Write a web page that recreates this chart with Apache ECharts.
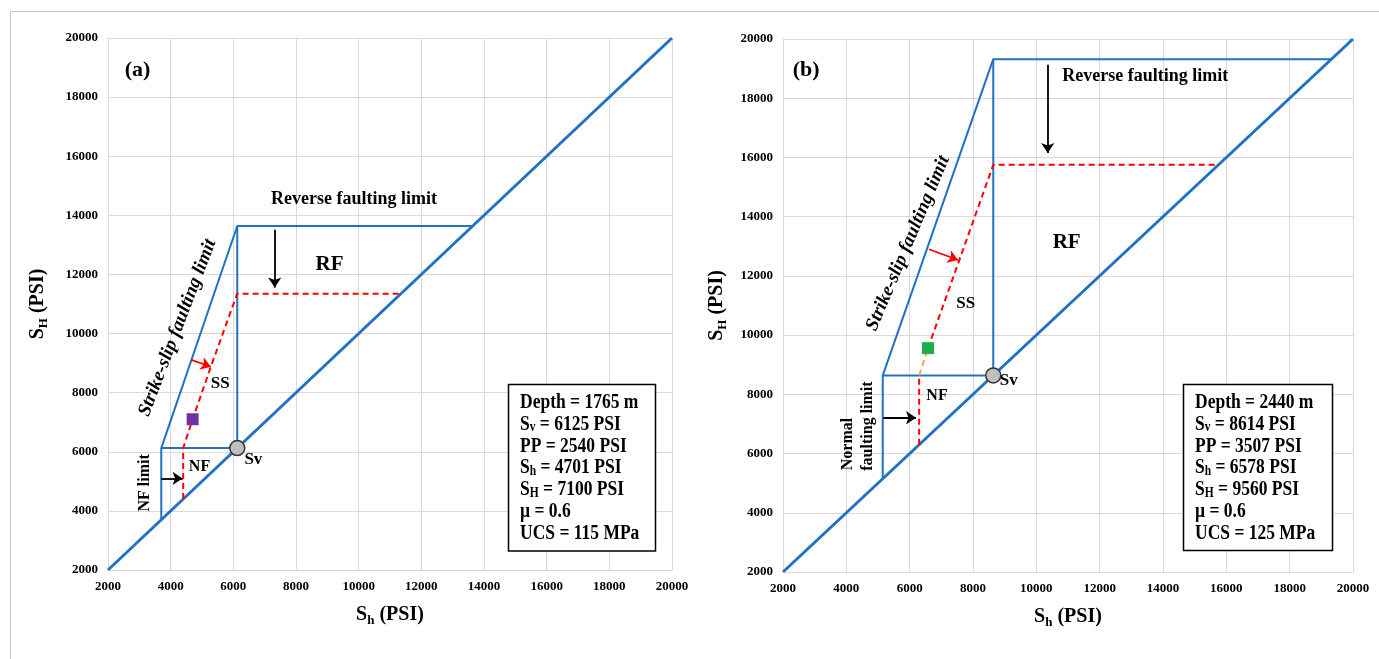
<!DOCTYPE html>
<html><head><meta charset="utf-8">
<script src="https://cdn.jsdelivr.net/npm/echarts@6/dist/echarts.min.js"></script>
<style>html,body{margin:0;padding:0;background:#fff}#c{width:1379px;height:659px}</style>
</head><body><div id="c"></div>
<script>
// ---------- axis ----------
const axisMin = 2000, axisMax = 20000, axisStep = 2000;

// ---------- panel (a) ----------
const aDiagonal = [[2000, 2000], [20000, 20000]];
const aLimitOuter = [[3700, 3700], [3700, 6125], [6125, 13640], [13640, 13640]];
const aLimitInner = [[3700, 6125], [6125, 6125], [6125, 13640]];
const aPathRed = [[4400, 4400], [4400, 6125], [4701, 7100], [5290, 8900], [6125, 11350], [11350, 11350]];
const aPathOrange = [];
const aPathRed2 = [];
const aWell = [[4701, 7100]];
const aSv = [[6125, 6125]];
const aArrowsBlack = [[[3700, 5100], [4380, 5100]], [[7320, 13510], [7320, 11560]]];
const aArrowsRed = [[[4660, 9110], [5284, 8876]]];
const aLabelText = ['(a)', 'Reverse faulting limit', 'RF', 'SS', 'NF', 'Sv', 'NF limit', 'Strike-slip faulting limit'];
const aLabelAt = [[2940, 18900], [9850, 14530], [9070, 12330], [5580, 8300], [4920, 5500], [6640, 5725], [3165, 4946], [4218, 10195]];
const aInfo = [['Depth = 1765 m'], ['S', 'v', ' = 6125 PSI'], ['PP = 2540 PSI'], ['S', 'h', ' = 4701 PSI'], ['S', 'H', ' = 7100 PSI'], ['\u00b5 = 0.6'], ['UCS = 115 MPa']];

// ---------- panel (b) ----------
const bDiagonal = [[2000, 2000], [20000, 20000]];
const bLimitOuter = [[5150, 5150], [5150, 8640], [8640, 19320], [19320, 19320]];
const bLimitInner = [[5150, 8640], [8640, 8640], [8640, 19320]];
const bPathRed = [[6300, 6300], [6300, 8640]];
const bPathOrange = [[6300, 8640], [6578, 9560]];
const bPathRed2 = [[6578, 9560], [8640, 15750], [15750, 15750]];
const bWell = [[6578, 9560]];
const bSv = [[8640, 8640]];
const bArrowsBlack = [[[5170, 7210], [6200, 7210]], [[10360, 19130], [10360, 16150]]];
const bArrowsRed = [[[6610, 12900], [7526, 12537]]];
const bLabelText = ['(b)', 'Reverse faulting limit', 'RF', 'SS', 'NF', 'Sv', 'Normal', 'faulting limit', 'Strike-slip faulting limit'];
const bLabelAt = [[2729, 18930], [13440, 18753], [10958, 13122], [7769, 11074], [6863, 7953], [9130, 8470], [4043, 6321], [4674, 6929], [5947, 13101]];
const bInfo = [['Depth = 2440 m'], ['S', 'v', ' = 8614 PSI'], ['PP = 3507 PSI'], ['S', 'h', ' = 6578 PSI'], ['S', 'H', ' = 9560 PSI'], ['\u00b5 = 0.6'], ['UCS = 125 MPa']];

// ---------- styling ----------
const FONT = "'Liberation Serif','Times New Roman',serif";
const BLUE = '#2272c3';
const RED = '#ff0000';
const ORANGE = '#f2a463';
const GRID = '#d9d9d9';

const labelStyleA = [
  {size: 22}, {size: 18}, {size: 21}, {size: 17}, {size: 16}, {size: 17},
  {size: 16, rotate: 90}, {size: 19, rotate: 69, italic: true}
];
const labelStyleB = [
  {size: 22}, {size: 18}, {size: 21}, {size: 17}, {size: 16}, {size: 17},
  {size: 16, rotate: 90}, {size: 16, rotate: 90}, {size: 19, rotate: 67, italic: true}
];

const grids = [
  {left: 108, top: 38, width: 564, height: 532},
  {left: 783, top: 39, width: 570, height: 533}
];

const nameRich = {
  m: {fontSize: 20, fontWeight: 'bold', fontFamily: FONT, color: '#000', lineHeight: 24},
  s: {fontSize: 13, fontWeight: 'bold', fontFamily: FONT, color: '#000', lineHeight: 6, verticalAlign: 'bottom'}
};

function axis(i, name, gap) {
  return {
    type: 'value', gridIndex: i, min: axisMin, max: axisMax, interval: axisStep,
    axisLine: {show: true, lineStyle: {color: GRID, width: 1}},
    axisTick: {show: false},
    splitLine: {show: true, lineStyle: {color: GRID, width: 1}},
    axisLabel: {color: '#000', fontFamily: FONT, fontWeight: 'bold', fontSize: 13, margin: 10,
      showMinLabel: true, showMaxLabel: true, formatter: v => String(v)},
    name: name, nameLocation: 'middle', nameGap: gap,
    nameTextStyle: {rich: nameRich}
  };
}

function panelSeries(i, d, styles) {
  const ax = {xAxisIndex: i, yAxisIndex: i};
  const line = (data, color, width, type, z) => ({
    type: 'line', ...ax, data: data, showSymbol: false, symbol: 'none', silent: true, z: z,
    lineStyle: {color: color, width: width, type: type}, animation: false
  });
  const arrows = (list, color) => ({
    type: 'lines', coordinateSystem: 'cartesian2d', ...ax, silent: true, z: 12,
    symbol: ['none', 'arrow'], symbolSize: 10,
    lineStyle: {color: color, width: 1.8, opacity: 1, curveness: 0},
    data: list.map(c => ({coords: c})), animation: false
  });
  const s = [
    line(d.diag, BLUE, 3, 'solid', 5),
    line(d.outer, BLUE, 2, 'solid', 5),
    line(d.inner, BLUE, 2, 'solid', 5),
    line(d.red, RED, 2, [6, 4], 6),
    arrows(d.black, '#000'),
    arrows(d.redArrows, RED),
    {type: 'scatter', ...ax, data: d.well, symbol: 'rect', symbolSize: 12, silent: true, z: 14,
      itemStyle: {color: d.wellColor, opacity: 1}, animation: false},
    {type: 'scatter', ...ax, data: d.sv, symbol: 'circle', symbolSize: 15, silent: true, z: 15,
      itemStyle: {color: '#bfbfbf', borderColor: '#333', borderWidth: 1.5, opacity: 1}, animation: false},
    {type: 'scatter', ...ax, symbolSize: 0, silent: true, z: 20, animation: false,
      itemStyle: {opacity: 1, color: 'transparent'},
      data: d.labels.map((t, k) => ({
        value: d.at[k],
        label: {show: true, position: 'inside', formatter: t, rotate: styles[k].rotate || 0,
          fontSize: styles[k].size, fontWeight: 'bold', fontStyle: styles[k].italic ? 'italic' : 'normal',
          fontFamily: FONT, color: '#000', opacity: 1, textBorderWidth: 0, textBorderColor: 'transparent',
          textShadowBlur: 0}
      }))}
  ];
  if (d.orange.length) s.push(line(d.orange, ORANGE, 2, [6, 4], 6));
  if (d.red2.length) s.push(line(d.red2, RED, 2, [6, 4], 6));
  return s;
}

function infoText(lines) {
  return lines.map(l => l.length === 1 ? '{t|' + l[0] + '}' : '{t|' + l[0] + '}{u|' + l[1] + '}{t|' + l[2] + '}').join('\n');
}
const infoRich = {
  t: {fontSize: 17.5, fontWeight: 'bold', fontFamily: FONT, fill: '#000', lineHeight: 17.45},
  u: {fontSize: 11.5, fontWeight: 'bold', fontFamily: FONT, fill: '#000', lineHeight: 4, verticalAlign: 'bottom'}
};
function infoBox(x, y, w, h, lines) {
  return {
    type: 'group', z: 100, children: [
      {type: 'rect', shape: {x: x, y: y, width: w, height: h}, style: {fill: '#fff', stroke: '#000', lineWidth: 1.5}, z: 100},
      {type: 'text', x: x + 11.5, y: y + 7, scaleY: 1.25, z: 101,
        style: {text: infoText(lines), rich: infoRich, verticalAlign: 'top', align: 'left'}}
    ]
  };
}

const chart = echarts.init(document.getElementById('c'), null, {renderer: 'canvas'});
chart.setOption({
  animation: false,
  backgroundColor: '#fff',
  grid: grids,
  xAxis: [axis(0, '{m|S}{s|h}{m| (PSI)}', 33), axis(1, '{m|S}{s|h}{m| (PSI)}', 33)],
  yAxis: [axis(0, '{m|S}{s|H}{m| (PSI)}', 58), axis(1, '{m|S}{s|H}{m| (PSI)}', 54)],
  series: [
    ...panelSeries(0, {diag: aDiagonal, outer: aLimitOuter, inner: aLimitInner, red: aPathRed, orange: aPathOrange, red2: aPathRed2,
      black: aArrowsBlack, redArrows: aArrowsRed, well: aWell, wellColor: '#7030a0', sv: aSv, labels: aLabelText, at: aLabelAt}, labelStyleA),
    ...panelSeries(1, {diag: bDiagonal, outer: bLimitOuter, inner: bLimitInner, red: bPathRed, orange: bPathOrange, red2: bPathRed2,
      black: bArrowsBlack, redArrows: bArrowsRed, well: bWell, wellColor: '#1fae4b', sv: bSv, labels: bLabelText, at: bLabelAt}, labelStyleB)
  ],
  graphic: [
    {type: 'rect', shape: {x: 10.5, y: 11.5, width: 1400, height: 700}, style: {fill: 'none', stroke: '#c4c4c4', lineWidth: 1}, z: -10, silent: true},
    infoBox(508.5, 384.5, 147, 166.5, aInfo),
    infoBox(1183.5, 384.5, 149, 166, bInfo)
  ]
});
</script></body></html>
